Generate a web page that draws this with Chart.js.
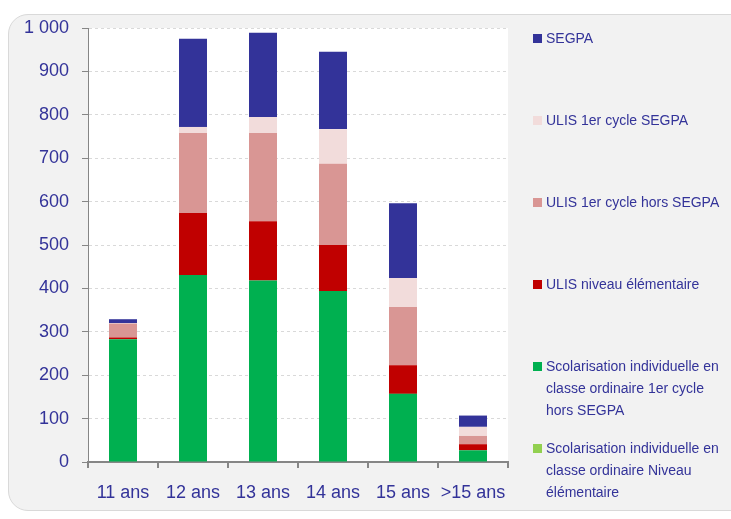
<!DOCTYPE html>
<html>
<head>
<meta charset="utf-8">
<script src="https://cdn.jsdelivr.net/npm/chart.js@4/dist/chart.umd.min.js"></script>
<style>
  html,body{margin:0;padding:0;background:#fff;width:731px;height:519px;overflow:hidden;}
  #panel{position:absolute;left:8px;top:14px;width:760px;height:497px;background:#f2f2f2;border:1px solid #d9d9d9;border-radius:20px;box-sizing:border-box;}
  #c{position:absolute;left:0;top:0;}
  #legend{position:absolute;left:533px;top:0;font-family:"Liberation Sans",sans-serif;font-size:14px;color:#333399;}
  .item{position:absolute;left:0;width:200px;line-height:22px;}
  .sw{position:absolute;left:0;top:7px;width:9px;height:9px;}
  .tx{position:absolute;left:13px;top:0;width:180px;}
</style>
</head>
<body>
<div id="panel"></div>
<canvas id="c" width="731" height="519"></canvas>
<div id="legend"></div>
<script>
const categories = ['11 ans','12 ans','13 ans','14 ans','15 ans','>15 ans'];
const scolElem   = [0, 0, 0, 0, 0, 0];
const scolCycle  = [283, 431, 418, 394, 157, 27];
const ulisElem   = [4, 143, 137, 106, 66, 14];
const ulisHors   = [32, 184, 203, 187, 134, 19];
const ulisSegpa  = [1, 14, 37, 80, 67, 21];
const segpa      = [9, 203, 194, 178, 172, 26];
const yTicks     = [0,100,200,300,400,500,600,700,800,900,1000];

const seriesNames = [
  'Scolarisation individuelle en classe ordinaire Niveau élémentaire',
  'Scolarisation individuelle en classe ordinaire 1er cycle hors SEGPA',
  'ULIS niveau élémentaire',
  'ULIS 1er cycle hors SEGPA',
  'ULIS 1er cycle SEGPA',
  'SEGPA'
];
const seriesData = [scolElem, scolCycle, ulisElem, ulisHors, ulisSegpa, segpa];
const seriesColors = ['#92d050','#00b050','#c00000','#d99694','#f2dcdb','#333399'];

const datasets = seriesNames.map((n,i)=>({
  label:n, data:seriesData[i], backgroundColor:seriesColors[i],
  borderWidth:0, barPercentage:0.4, categoryPercentage:1.0, stack:'s'
}));

const whiteArea = {
  id:'whiteArea',
  beforeDraw(chart){
    const {ctx, chartArea:a} = chart;
    ctx.save(); ctx.fillStyle='#ffffff';
    ctx.fillRect(a.left, a.top, a.right-a.left, a.bottom-a.top);
    ctx.restore();
  }
};

const tickFont = {family:'"Liberation Sans",sans-serif', size:18};

new Chart(document.getElementById('c'), {
  type:'bar',
  data:{labels:categories, datasets},
  plugins:[whiteArea],
  options:{
    responsive:false, animation:false,
    layout:{padding:{left:0, right:223, top:28, bottom:0}},
    plugins:{legend:{display:false}, tooltip:{enabled:false}},
    scales:{
      x:{
        stacked:true,
        grid:{display:true, drawOnChartArea:false, drawTicks:true, tickLength:6, color:'#868686', lineWidth:2, offset:true},
        border:{display:true, color:'#868686', width:2},
        ticks:{color:'#333399', font:tickFont, padding:14, maxRotation:0},
        afterFit(s){ s.height = 57; }
      },
      y:{
        stacked:true, min:0, max:1000,
        afterBuildTicks(s){ s.ticks = yTicks.map(v=>({value:v})); },
        grid:{color:'#d9d9d9', lineWidth:1, tickLength:6, tickColor:'#868686', tickBorderDash:[]},
        border:{display:true, color:'#868686', width:1, dash:[3,3]},
        ticks:{color:'#333399', font:tickFont, padding:13,
          callback(v){ return v>=1000 ? String(v).replace(/\B(?=(\d{3})+(?!\d))/g,' ') : String(v); }},
        afterFit(s){ s.width = 88; }
      }
    }
  }
});

// legend (reverse order, top = SEGPA)
const legendTops = [437, 355, 273, 191, 109, 27];
const legend = document.getElementById('legend');
seriesNames.forEach((n,i)=>{
  const it = document.createElement('div'); it.className='item'; it.style.top = legendTops[i]+'px';
  const sw = document.createElement('div'); sw.className='sw'; sw.style.background = seriesColors[i];
  const tx = document.createElement('div'); tx.className='tx'; tx.textContent = n;
  it.appendChild(sw); it.appendChild(tx); legend.appendChild(it);
});
</script>
</body>
</html>
